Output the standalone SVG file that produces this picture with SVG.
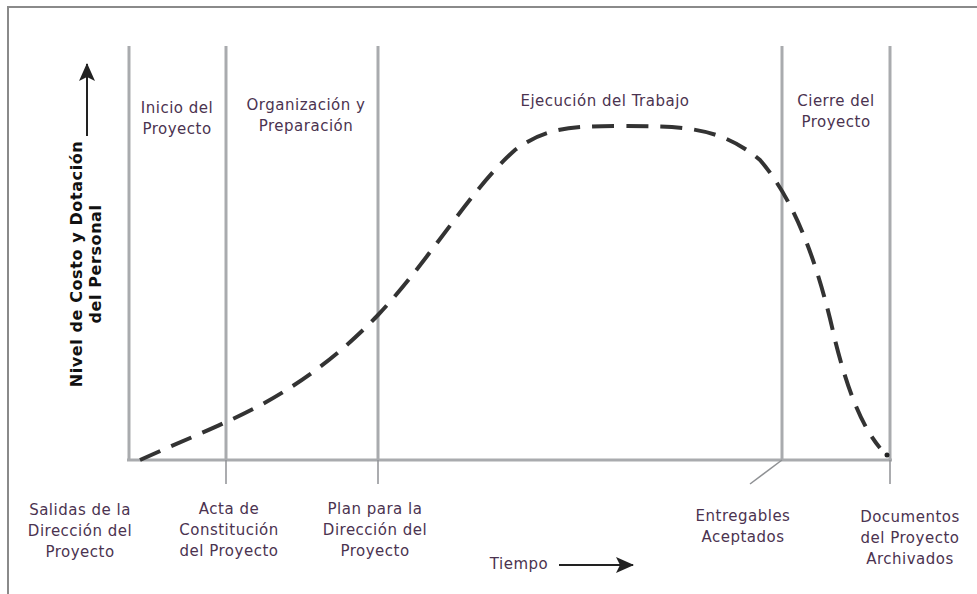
<svg xmlns="http://www.w3.org/2000/svg" width="977" height="594" viewBox="0 0 977 594">
  <style>
    .frame { fill: #fff; stroke: #8a8a8a; stroke-width: 2; }
    .grid { stroke: #a9abae; stroke-width: 3; fill: none; }
    .tick { stroke: #8f9194; stroke-width: 1.5; fill: none; }
    .curve { stroke: #333; stroke-width: 4; fill: none; stroke-dasharray: 22 12; stroke-linecap: butt; }
    .lbl { font-family: "DejaVu Sans", Verdana, sans-serif; font-size: 15px; letter-spacing: 0.5px; fill: #4b3350; text-anchor: middle; }
    .ylbl { font-family: "DejaVu Sans", sans-serif; font-weight: bold; font-size: 16px; letter-spacing: 0.6px; fill: #111; text-anchor: middle; }
    .arrow { stroke: #222; stroke-width: 2; fill: none; }
  </style>
  <defs>
    <marker id="head" viewBox="0 0 18 16" refX="17" refY="8" markerWidth="18" markerHeight="16" markerUnits="userSpaceOnUse" orient="auto">
      <path d="M0,0 L18,8 L0,16 L4,8 Z" fill="#222"/>
    </marker>
  </defs>

  <rect class="frame" x="8" y="7" width="1000" height="1000"/>

  <!-- phase boundaries and axes -->
  <g id="axes">
    <line class="grid" x1="129" y1="46" x2="129" y2="460"/>
    <line class="grid" x1="226" y1="46" x2="226" y2="460"/>
    <line class="grid" x1="378" y1="46" x2="378" y2="460"/>
    <line class="grid" x1="782" y1="46" x2="782" y2="460"/>
    <line class="grid" x1="890" y1="46" x2="890" y2="460"/>
    <line class="grid" x1="127" y1="460" x2="892" y2="460"/>
    <line class="tick" x1="226" y1="460" x2="226" y2="484"/>
    <line class="tick" x1="378" y1="460" x2="378" y2="484"/>
    <line class="tick" x1="890" y1="460" x2="890" y2="484"/>
    <line class="tick" x1="782" y1="460" x2="750" y2="484"/>
  </g>

  <!-- cost and staffing curve -->
  <g id="curve">
    <path class="curve" d="M140,460 C180,442 205,432 226,422 C280,398 330,365 378,315 C430,260 470,190 515,150 C545,128 570,126 620,126 C680,126 720,126 760,160 C790,195 815,250 835,340 C850,400 865,430 880,448"/>
    <circle cx="887" cy="455" r="2.5" fill="#222"/>
  </g>

  <!-- vertical axis label -->
  <g id="y-axis">
    <text class="ylbl" transform="translate(82,264) rotate(-90)">Nivel de Costo y Dotación</text>
    <text class="ylbl" transform="translate(101,264) rotate(-90)">del Personal</text>
    <line class="arrow" x1="87" y1="136" x2="87" y2="64" marker-end="url(#head)"/>
  </g>

  <!-- phase names -->
  <g id="phase-inicio">
    <text class="lbl" x="177" y="113">Inicio del</text>
    <text class="lbl" x="177" y="134">Proyecto</text>
  </g>
  <g id="phase-organizacion">
    <text class="lbl" x="306" y="110">Organización y</text>
    <text class="lbl" x="306" y="131">Preparación</text>
  </g>
  <g id="phase-ejecucion">
    <text class="lbl" x="605" y="106">Ejecución del Trabajo</text>
  </g>
  <g id="phase-cierre">
    <text class="lbl" x="836" y="106">Cierre del</text>
    <text class="lbl" x="836" y="127">Proyecto</text>
  </g>

  <!-- milestones -->
  <g id="ms-salidas">
    <text class="lbl" x="80" y="515">Salidas de la</text>
    <text class="lbl" x="80" y="536">Dirección del</text>
    <text class="lbl" x="80" y="557">Proyecto</text>
  </g>
  <g id="ms-acta">
    <text class="lbl" x="229" y="514">Acta de</text>
    <text class="lbl" x="229" y="535">Constitución</text>
    <text class="lbl" x="229" y="556">del Proyecto</text>
  </g>
  <g id="ms-plan">
    <text class="lbl" x="375" y="514">Plan para la</text>
    <text class="lbl" x="375" y="535">Dirección del</text>
    <text class="lbl" x="375" y="556">Proyecto</text>
  </g>
  <g id="ms-entregables">
    <text class="lbl" x="743" y="521">Entregables</text>
    <text class="lbl" x="743" y="542">Aceptados</text>
  </g>
  <g id="ms-documentos">
    <text class="lbl" x="910" y="522">Documentos</text>
    <text class="lbl" x="910" y="543">del Proyecto</text>
    <text class="lbl" x="910" y="564">Archivados</text>
  </g>

  <!-- time axis label -->
  <g id="x-axis">
    <text class="lbl" x="519" y="569">Tiempo</text>
    <line class="arrow" x1="559" y1="565" x2="633" y2="565" marker-end="url(#head)"/>
  </g>
</svg>
